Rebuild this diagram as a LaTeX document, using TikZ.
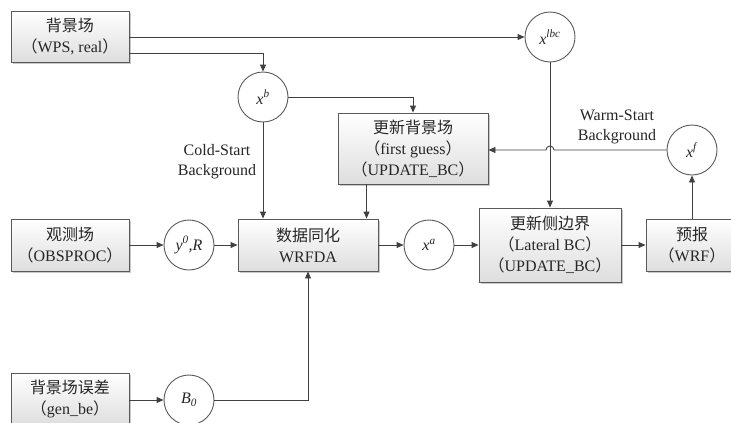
\documentclass[tikz,border=0pt]{standalone}
\usepackage{fontspec}
\setmainfont{Liberation Serif}
\newfontfamily\cjk{Noto Sans CJK SC}
\usetikzlibrary{arrows.meta,shadows,calc}
\newcommand\zh[1]{{\cjk #1}}
\definecolor{linec}{HTML}{404040}
\definecolor{boxc}{HTML}{5A5A5A}
\definecolor{txtc}{HTML}{262626}
\tikzset{
  box/.style={draw=boxc, line width=0.9pt, top color=white, bottom color=black!13,
    drop shadow={shadow xshift=1.5pt, shadow yshift=-1.5pt, opacity=0.35, fill=black!60},
    minimum width=#1, inner sep=0pt, align=center, text=txtc,
    font=\fontsize{16}{21}\selectfont},
  circ/.style={draw=boxc, line width=0.9pt, fill=white, circle, minimum size=50pt,
    inner sep=0pt, text=txtc, font=\fontsize{16}{20}\selectfont},
  lbl/.style={align=center, text=txtc, font=\fontsize{16}{20}\selectfont},
  arr/.style={draw=linec, line width=0.9pt, -{Triangle[length=7pt,width=6pt]}},
}
\begin{document}
\begin{tikzpicture}[x=1pt,y=-1pt]
\clip (0,0) rectangle (731,423);
\fill[white] (0,0) rectangle (731,423);
% boxes
\node[box=118pt, minimum height=51pt] (bg) at (70,36.5) {\zh{背景场}\\\zh{（}WPS, real\zh{）}};
\node[box=118pt, minimum height=52pt] (obs) at (70,245) {\zh{观测场}\\\zh{（}OBSPROC\zh{）}};
\node[box=118pt, minimum height=52pt] (be) at (70,399) {\zh{背景场误差}\\\zh{（}gen\_be\zh{）}};
\node[box=140pt, minimum height=52pt] (da) at (308,245) {\zh{数据同化}\\WRFDA};
\node[box=150pt, minimum height=71pt] (ug) at (413,148.5) {\zh{更新背景场}\\\zh{（}first guess\zh{）}\\\zh{（}UPDATE\_BC\zh{）}};
\node[box=142pt, minimum height=74pt] (lbc) at (550,245) {\zh{更新侧边界}\\\zh{（}Lateral BC\zh{）}\\\zh{（}UPDATE\_BC\zh{）}};
\node[box=92pt, minimum height=52pt] (wrf) at (692,245) {\zh{预报}\\\zh{（}WRF\zh{）}};
% circles
\node[circ] (xb) at (263,97) {\textit{x}\textsuperscript{\textit{b}}};
\node[circ] (xlbc) at (550,37) {\textit{x}\textsuperscript{\textit{lbc}}};
\node[circ] (xf) at (692,150) {\textit{x}\textsuperscript{\textit{f}}};
\node[circ] (y0) at (189,245) {\textit{y}\textsuperscript{\textit{0}}\textit{,R}};
\node[circ] (xa) at (429,245) {\textit{x}\textsuperscript{\textit{a}}};
\node[circ] (B0) at (189,400) {\textit{B}\textsubscript{\textit{0}}};
% labels
\node[lbl] (cold) at (217,162) {Cold-Start\\Background};
\node[lbl] (warm) at (617,127) {Warm-Start\\Background};
% helper coordinates
\coordinate (bgs) at ($(bg.east)+(0,16.5)$);
\coordinate (ugs) at ($(ug.south west)+(29,0)$);
\coordinate (hop) at ($(xlbc.south |- xf.west)+(4,0)$);
% connectors
\draw[arr] (bg.east |- xlbc.west) -- (xlbc.west);
\draw[arr] (bgs) -| (xb.north);
\draw[arr] (xb.east) -| (ug.north);
\draw[arr] (xb.south) -- (xb.south |- da.north);
\draw[arr] (ugs) -- (ugs |- da.north);
\draw[arr] (xf.west) -- (hop) arc[start angle=0,end angle=180,radius=4pt] -- (ug.east |- xf.west);
\draw[arr] (xlbc.south) -- (lbc.north);
\draw[arr] (obs.east) -- (y0.west);
\draw[arr] (y0.east) -- (da.west);
\draw[arr] (da.east) -- (xa.west);
\draw[arr] (xa.east) -- (lbc.west);
\draw[arr] (lbc.east |- wrf.west) -- (wrf.west);
\draw[arr] (wrf.north) -- (xf.south);
\draw[arr] (be.east |- B0.west) -- (B0.west);
\draw[arr] (B0.east) -| (da.south);
\end{tikzpicture}
\end{document}
